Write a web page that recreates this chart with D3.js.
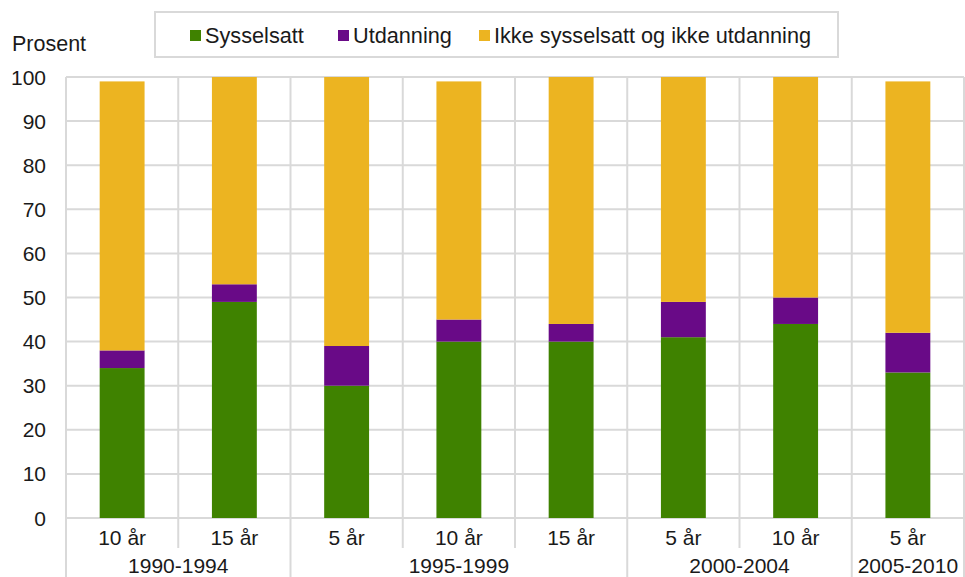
<!DOCTYPE html>
<html>
<head>
<meta charset="utf-8">
<script src="https://cdn.jsdelivr.net/npm/d3@7"></script>
<style>
  body { margin: 0; background: #fff; }
  svg { font-family: Arial, "Liberation Sans", sans-serif; }
</style>
</head>
<body>
<svg id="chart" width="965" height="577"></svg>
<script>
// categories: duration after arrival, grouped by arrival period
const durations = ['10 år', '15 år', '5 år', '10 år', '15 år', '5 år', '10 år', '5 år']
const periods = ['1990-1994', '1990-1994', '1995-1999', '1995-1999', '1995-1999', '2000-2004', '2000-2004', '2005-2010']
const groups = ['1990-1994', '1995-1999', '2000-2004', '2005-2010']

// series values (prosent)
const sysselsatt = [34, 49, 30, 40, 40, 41, 44, 33]
const utdanning = [4, 4, 9, 5, 4, 8, 6, 9]
const ikke = [61, 47, 61, 54, 56, 51, 50, 57]

const seriesNames = ['Sysselsatt', 'Utdanning', 'Ikke sysselsatt og ikke utdanning']
const colors = ['#3f8200', '#690a87', '#ecb421']
const yTicks = [0, 10, 20, 30, 40, 50, 60, 70, 80, 90, 100]

const svg = d3.select('#chart')
const margin = { left: 66, right: 1, top: 77, bottom: 59 }
const width = 965 - margin.left - margin.right
const height = 577 - margin.top - margin.bottom
const grid = '#d9d9d9'
const fs = 21

const idx = durations.map((d, i) => i)
const x = d3.scaleBand().domain(idx).range([margin.left, margin.left + width]).padding(0)
const y = d3.scaleLinear().domain([0, 100]).range([margin.top + height, margin.top])

// horizontal gridlines
svg.append('g').selectAll('line').data(yTicks).join('line')
  .attr('x1', margin.left).attr('x2', margin.left + width)
  .attr('y1', d => y(d)).attr('y2', d => y(d))
  .attr('stroke', grid).attr('stroke-width', 2)

// vertical gridlines between categories, longer ones at group boundaries
const bounds = d3.range(durations.length + 1)
svg.append('g').selectAll('line').data(bounds).join('line')
  .attr('x1', i => i < durations.length ? x(i) : x.range()[1])
  .attr('x2', i => i < durations.length ? x(i) : x.range()[1])
  .attr('y1', margin.top)
  .attr('y2', i => (i === 0 || i === durations.length || periods[i] !== periods[i - 1]) ? 577 : y(0) + 30)
  .attr('stroke', grid).attr('stroke-width', 2)

// stacked bars
const rows = idx.map(i => ({ i, s0: sysselsatt[i], s1: utdanning[i], s2: ikke[i] }))
const stack = d3.stack().keys(['s0', 's1', 's2'])(rows)
const barW = x.bandwidth() * 0.4

svg.append('g').selectAll('g').data(stack).join('g')
  .attr('fill', (d, k) => colors[k])
  .selectAll('rect').data(d => d).join('rect')
  .attr('x', d => x(d.data.i) + (x.bandwidth() - barW) / 2)
  .attr('width', barW)
  .attr('y', d => y(d[1]))
  .attr('height', d => y(d[0]) - y(d[1]))

// y axis labels
svg.append('g').selectAll('text').data(yTicks).join('text')
  .attr('x', 46).attr('y', d => y(d) + 7.5)
  .attr('text-anchor', 'end').attr('font-size', fs).attr('fill', '#1a1a1a')
  .text(d => d)

svg.append('text').attr('x', 12).attr('y', 51)
  .attr('font-size', 21.5).attr('fill', '#1a1a1a').text('Prosent')

// category labels
svg.append('g').selectAll('text').data(idx).join('text')
  .attr('x', i => x(i) + x.bandwidth() / 2).attr('y', 545)
  .attr('text-anchor', 'middle').attr('font-size', fs).attr('fill', '#1a1a1a')
  .text(i => durations[i])

// group labels
svg.append('g').selectAll('text').data(groups).join('text')
  .attr('x', g => {
    const members = idx.filter(i => periods[i] === g)
    return (x(members[0]) + x(members[members.length - 1]) + x.bandwidth()) / 2
  })
  .attr('y', 573)
  .attr('text-anchor', 'middle').attr('font-size', fs).attr('fill', '#1a1a1a')
  .text(g => g)

// legend
const legend = svg.append('g')
legend.append('rect').attr('x', 155).attr('y', 12).attr('width', 683).attr('height', 45)
  .attr('fill', '#fff').attr('stroke', grid).attr('stroke-width', 2)
const legendX = [190, 338, 479]
seriesNames.forEach((name, k) => {
  legend.append('rect').attr('x', legendX[k]).attr('y', 30).attr('width', 11).attr('height', 11)
    .attr('fill', colors[k])
  legend.append('text').attr('x', legendX[k] + 15).attr('y', 43)
    .attr('font-size', 21.7).attr('fill', '#1a1a1a').text(name)
})
</script>
</body>
</html>
